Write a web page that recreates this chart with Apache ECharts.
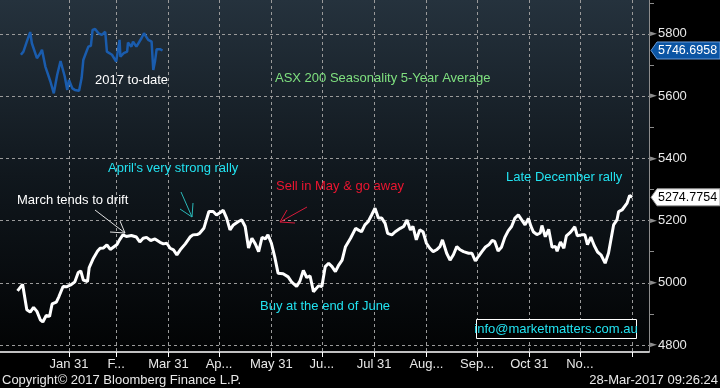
<!DOCTYPE html>
<html>
<head>
<meta charset="utf-8">
<script src="https://cdn.jsdelivr.net/npm/echarts@6/dist/echarts.min.js"></script>
<style>
html,body{margin:0;padding:0;background:#000;}
#c{width:720px;height:388px;}
</style>
</head>
<body>
<div id="c"></div>
<script>
// Day-of-year (0 = Jan 1) positions of the monthly gridlines and their labels
const monthEndDays = [30, 58, 89, 119, 150, 180, 211, 242, 272, 303, 333, 364];
const monthLabels = ['Jan 31', 'F...', 'Mar 31', 'Ap...', 'May 31', 'Ju...', 'Jul 31', 'Aug...', 'Sep...', 'Oct 31', 'No...', ''];
const yLabelValues = [4800, 5000, 5200, 5400, 5600, 5800];
const yMinorValues = [4900, 5100, 5300, 5500, 5700, 5900];

// ASX 200 Seasonality 5-Year Average
const seasonalDays = [-0.5,2.5,5,7,9,11,13,14.5,16.5,18.5,
  20,22.5,24,26.5,28.5,31,33.5,35.5,37,38.5,
  41,42,44.5,47,48.5,50.5,52.5,54.5,56.5,58.5,
  60,62,64,67,70,72,74,76,78.5,81,
  84,86,88,90,92,94,96,99,102,103.5,
  106,107.5,110,111.5,113,115.5,117.5,119.5,121.5,123.5,
  125.5,127.5,130.5,132.5,134.5,136.5,138.5,140.5,142.5,144.5,
  146.5,148,150,152,154,157,160,162,165,167,
  169,171,173,175,178,180,182,184,186,188,
  190,192,194,197,200,201.5,203.5,205.5,207.5,209.5,
  211.5,213.5,215.5,217.5,219,221.5,223.5,226.5,228.5,230.5,
  232.5,234,236,238,240,242,244,246,248,250,
  251.5,254,256,258,260,262,264,267,269,271,
  273,275,277,279,281,282.5,284.5,286.5,288.5,290.5,
  292.5,294.5,296.5,298.5,300.5,302.5,304,305.5,307.5,309.5,
  310.5,312.5,314.5,316.5,318.5,319.5,321.5,323.5,325,327.5,
  330,331.5,334,336,337.5,339.5,341.5,343.5,345.5,348,
  350,351.5,353,355,356,358,359,361,362.5,364];
const seasonalValues = [4974,4995,4913,4906,4921,4908,4881,4874,4895,4892,
  4932,4938,4955,4988,4987,4993,5003,5033,5038,5009,
  5004,5049,5079,5102,5111,5112,5122,5107,5115,5123,
  5138,5154,5149,5152,5147,5131,5143,5146,5136,5141,
  5130,5125,5127,5111,5106,5090,5106,5125,5148,5154,
  5155,5159,5175,5202,5229,5229,5218,5225,5233,5208,
  5170,5186,5197,5202,5181,5112,5143,5125,5100,5146,
  5141,5154,5128,5084,5031,5029,5019,5003,4988,5006,
  5040,5017,5022,4971,4990,4988,5052,5063,5052,5036,
  5057,5073,5116,5143,5175,5170,5164,5186,5197,5218,
  5240,5208,5208,5191,5159,5154,5164,5175,5181,5202,
  5170,5181,5138,5170,5164,5127,5111,5100,5106,5116,
  5138,5095,5073,5090,5116,5106,5100,5095,5095,5070,
  5086,5101,5115,5122,5136,5133,5102,5114,5146,5167,
  5181,5208,5218,5202,5186,5207,5181,5163,5155,5160,
  5184,5148,5172,5114,5117,5101,5131,5111,5151,5163,
  5180,5151,5154,5154,5123,5147,5120,5099,5090,5063,
  5096,5141,5186,5202,5229,5234,5236,5256,5281,5274.7754];

// 2017 to-date
const ytdDays = [1.5,3,5,7,8,9,11,13,14,16,
  17,19,21,23,25,27.5,29,30,31,32,
  33.5,36,37.5,38.5,40,41.5,43,44,45.5,47.5,
  49.5,51.5,52.5,55.5,58,59,60,60.5,62.5,64.5,
  65,67,68,70,71,73,74.5,77,79,80,
  81,82,84,85.5];
const ytdValues = [5733,5743,5775,5806,5770,5772,5722,5738,5749,5695,
  5690,5647,5609,5668,5713,5663,5620,5652,5649,5625,
  5620,5617,5658,5716,5738,5759,5762,5813,5816,5802,
  5797,5807,5743,5733,5711,5708,5781,5727,5738,5743,
  5772,5759,5775,5759,5756,5786,5802,5781,5775,5684,
  5711,5751,5751,5746.6958];

const FONT = 'Liberation Sans, Arial, sans-serif';
const zip = (a, b) => a.map((d, i) => [d, b[i]]);
const seasonalData = zip(seasonalDays, seasonalValues);
const ytdData = zip(ytdDays, ytdValues);

const chart = echarts.init(document.getElementById('c'), null, {renderer: 'canvas'});

const option = {
  backgroundColor: '#000',
  animation: false,
  grid: {
    left: 0, right: 71, top: 0, bottom: 36,
    show: true, borderWidth: 0,
    backgroundColor: new echarts.graphic.LinearGradient(0, 0, 0, 1, [
      {offset: 0, color: '#25323d'},
      {offset: 0.5, color: '#10171d'},
      {offset: 1, color: '#020304'}
    ])
  },
  xAxis: {
    type: 'value',
    min: -10.9, max: 374,
    axisLine: {show: true, onZero: false, lineStyle: {color: '#ffffff', width: 1.5}},
    axisTick: {show: true, customValues: monthEndDays, length: 5, lineStyle: {color: '#ffffff', width: 1}},
    axisLabel: {
      customValues: monthEndDays,
      margin: 6,
      color: '#e8e8e8', fontSize: 13, fontFamily: FONT,
      formatter: v => { const i = monthEndDays.indexOf(Math.round(v)); return i >= 0 ? monthLabels[i] : ''; }
    },
    splitLine: {show: true, lineStyle: {color: '#9a9a9a', type: [3, 3], width: 1}}
  },
  yAxis: [{
    type: 'value',
    position: 'right',
    min: 4777.5, max: 5909,
    axisLine: {show: true, onZero: false, lineStyle: {color: '#8c8c8c', width: 1}},
    axisTick: {show: false, customValues: yLabelValues},
    axisLabel: {
      customValues: yLabelValues,
      margin: 1,
      formatter: v => '{t|►}{v|' + v + '}',
      rich: {
        t: {color: '#8c8c8c', fontSize: 9, fontFamily: 'DejaVu Sans', padding: [0, 1, 0, 0]},
        v: {color: '#e8e8e8', fontSize: 13, fontFamily: FONT}
      }
    },
    splitLine: {show: true, lineStyle: {color: '#9a9a9a', type: [3, 3], width: 1}}
  }, {
    type: 'value',
    position: 'right',
    min: 4777.5, max: 5909,
    axisLine: {show: false, onZero: false},
    axisTick: {show: true, customValues: yMinorValues, inside: false, length: 5, lineStyle: {color: '#8c8c8c'}},
    axisLabel: {show: false},
    splitLine: {show: false}
  }],
  series: [{
    name: 'ASX 200 Seasonality 5-Year Average',
    type: 'line',
    data: seasonalData,
    showSymbol: false,
    lineStyle: {color: '#ffffff', width: 3},
    z: 3
  }, {
    name: '2017 to-date',
    type: 'line',
    data: ytdData,
    showSymbol: false,
    lineStyle: {color: '#1a5cad', width: 2.5},
    z: 2
  }]
};
chart.setOption(option);

function txt(text, x, y, color, align) {
  return {type: 'text', x: x, y: y, z: 50,
    style: {text: text, fill: color, font: '13px ' + FONT, textAlign: align || 'left', textVerticalAlign: 'middle'}};
}
function seg(x1, y1, x2, y2, color) {
  return {type: 'line', z: 40, shape: {x1, y1, x2, y2}, style: {stroke: color, lineWidth: 1}};
}
function tag(value, fill, stroke, textColor) {
  const y = chart.convertToPixel({yAxisIndex: 0}, value);
  const h = 8.5;
  return [{
    type: 'polygon', z: 60,
    shape: {points: [[651, y], [657, y - h], [720, y - h], [720, y + h], [657, y + h]]},
    style: {fill: fill, stroke: stroke, lineWidth: 1}
  }, {
    type: 'text', x: 658, y: y, z: 61,
    style: {text: value.toFixed(4), fill: textColor, font: '12.5px ' + FONT, textVerticalAlign: 'middle'}
  }];
}

const CYAN = '#22e2f0';
const graphics = [
  txt('2017 to-date', 95, 80, '#ffffff'),
  txt('ASX 200 Seasonality 5-Year Average', 275, 78, '#7fe07f'),
  txt("April's very strong rally", 108, 168, CYAN),
  txt('March tends to drift', 17, 200, '#ffffff'),
  txt('Sell in May & go away', 276, 186, '#ec1530'),
  txt('Buy at the end of June', 260, 306, CYAN),
  txt('Late December rally', 506, 177, CYAN),
  // March arrow
  seg(95, 210, 125, 233, '#e0e0e0'), seg(125, 233, 110, 232, '#e0e0e0'), seg(125, 233, 120, 221, '#e0e0e0'),
  // April arrow
  seg(181, 192, 192, 217, '#2ab8b8'), seg(192, 217, 180, 209, '#2ab8b8'), seg(192, 217, 193, 203, '#2ab8b8'),
  // Sell in May arrow
  seg(307, 207, 280, 222, '#d81a3a'), seg(280, 222, 295, 223, '#d81a3a'), seg(280, 222, 287, 210, '#d81a3a'),
  // email box
  {type: 'rect', z: 45, shape: {x: 476.5, y: 319.5, width: 160, height: 19}, style: {fill: '#000', stroke: '#ffffff', lineWidth: 1}},
  txt('info@marketmatters.com.au', 556, 329, CYAN, 'center'),
  txt('Copyright© 2017 Bloomberg Finance L.P.', 2, 380, '#e8e8e8'),
  txt('28-Mar-2017 09:26:24', 718, 380, '#e8e8e8', 'right')
].concat(
  tag(ytdValues[ytdValues.length - 1], '#0b55a4', '#6a9ad6', '#ffffff'),
  tag(seasonalValues[seasonalValues.length - 1], '#ffffff', '#9a9a9a', '#000000')
);
chart.setOption({graphic: graphics});
</script>
</body>
</html>
